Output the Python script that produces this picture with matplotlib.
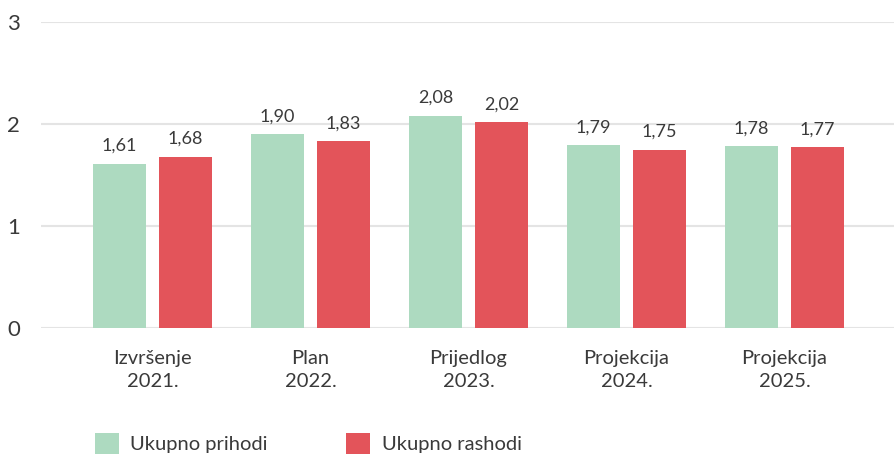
import matplotlib
matplotlib.use('Agg')
import matplotlib.pyplot as plt
import numpy as np

plt.rcParams['font.family'] = ['Lato', 'DejaVu Sans']

kategorije = ['Izvršenje\n2021.', 'Plan\n2022.', 'Prijedlog\n2023.', 'Projekcija\n2024.', 'Projekcija\n2025.']
prihodi = [1.61, 1.90, 2.08, 1.79, 1.78]
rashodi = [1.68, 1.83, 2.02, 1.75, 1.77]

zelena = '#addac0'
crvena = '#e3545a'
tekst = '#3a3a3a'

fig = plt.figure(figsize=(8.94, 4.55), dpi=100)
ax = fig.add_axes([41 / 894, 127 / 455, 1 - 41 / 894, 306 / 455])

x = np.arange(len(kategorije))
w = 0.335
off = 0.209
b1 = ax.bar(x - off, prihodi, w, color=zelena, label='Ukupno prihodi', zorder=2)
b2 = ax.bar(x + off, rashodi, w, color=crvena, label='Ukupno rashodi', zorder=2)

for bars, vals in [(b1, prihodi), (b2, rashodi)]:
    for b, v in zip(bars, vals):
        ax.annotate(f'{v:.2f}'.replace('.', ','), (b.get_x() + b.get_width() / 2, v),
                    xytext=(0, 7), textcoords='offset points', ha='center', va='bottom',
                    fontsize=13, color=tekst)

ax.set_ylim(0, 3)
ax.set_xlim(-0.706, 4.693)
ax.set_yticks([0, 1, 2, 3])
ax.set_xticks(x)
ax.set_xticklabels(kategorije, fontsize=14.5, color=tekst, linespacing=1.4)
ax.tick_params(axis='y', labelsize=16, colors=tekst, length=0, pad=15)
ax.tick_params(axis='x', length=0, pad=16)
ax.grid(axis='y', color='#e4e4e4', linewidth=1.5, zorder=0)
for s in ax.spines.values():
    s.set_visible(False)

fig.legend(handles=[b1, b2], loc='upper left', bbox_to_anchor=(95 / 894, 22 / 455),
           ncol=2, frameon=False, fontsize=14.5, labelcolor=tekst,
           handlelength=1.2, handleheight=1.2, handletextpad=0.55,
           columnspacing=3.9, borderpad=0, borderaxespad=0)

fig.savefig('out.png', dpi=100)
